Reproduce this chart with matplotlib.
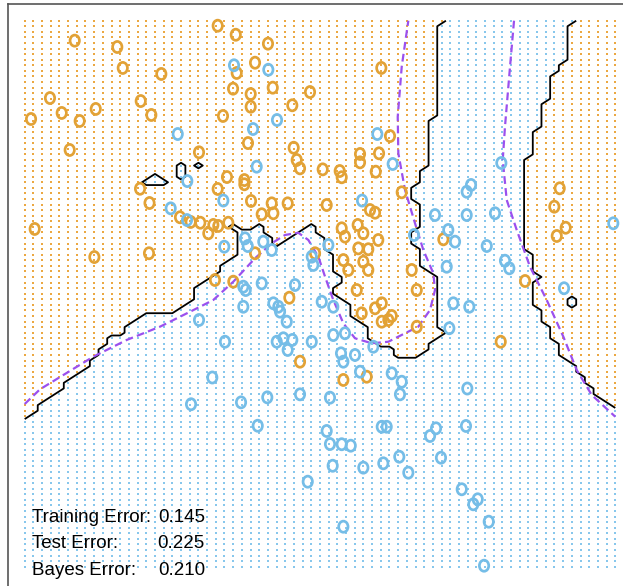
import numpy as np
import matplotlib
matplotlib.use("Agg")
import matplotlib.pyplot as plt
from matplotlib.path import Path
from matplotlib.transforms import Affine2D
from matplotlib.lines import Line2D

# ---------------- data ----------------
orange_x1 = [-2.024, -1.534, -1.471, -1.027, -2.309, -1.782, -1.264, -2.174, -1.967, -2.527,
             -1.142, -2.082, -0.593, -1.272, -0.378, -0.170, 0.201, 0.052, -0.159, -0.201,
             0.002, 0.256, 0.685, 0.002, 0.481, -0.317, 1.506, -0.029, 0.497, 0.532,
             0.570, 0.831, 1.027, 1.050, 1.261, 1.261, 1.480, 1.442, 1.606, -0.271,
             -0.071, -0.071, -0.378, 1.741, -1.163, -2.485, -1.798, -1.169, -0.812, -0.689,
             -0.578, -0.486, -0.428, -0.371, -0.256, 0.006, 0.129, 0.244, 0.263, 0.428,
             0.877, 1.376, 1.434, -0.409, -0.198, 0.052, 0.447, 0.743, 1.050, 1.088,
             1.234, 1.299, 1.241, 1.356, 1.471, 1.069, 1.126, 1.299, 1.356, 1.223,
             1.856, 1.914, 1.434, 1.511, 1.280, 1.511, 1.587, 1.626, 1.914, 0.570,
             1.069, 1.338, 3.560, 3.498, 3.629, 3.526, 2.220, 3.161, 2.881]
orange_x2 = [2.721, 2.664, 2.476, 2.422, 2.206, 2.108, 2.179, 2.072, 2.000, 2.018,
             2.054, 1.740, 1.719, 1.392, 2.855, 2.774, 2.694, 2.523, 2.431, 2.290,
             2.242, 2.299, 2.260, 2.128, 2.141, 2.045, 2.476, 1.802, 1.760, 1.650,
             1.575, 1.566, 1.551, 1.495, 1.704, 1.629, 1.710, 1.545, 1.865, 1.497,
             1.470, 1.432, 1.390, 1.360, 1.264, 1.031, 0.779, 0.813, 1.136, 1.094,
             1.087, 0.992, 1.067, 1.058, 1.087, 1.282, 1.163, 1.261, 1.172, 1.261,
             1.246, 1.201, 1.177, 0.573, 0.558, 0.813, 0.414, 0.813, 1.037, 0.962,
             1.067, 0.992, 0.857, 0.849, 0.932, 0.752, 0.663, 0.737, 0.663, 0.483,
             0.663, 0.483, 0.319, 0.364, 0.274, 0.199, 0.214, 0.250, 0.154, -0.160,
             -0.324, -0.295, 1.396, 1.231, 1.042, 0.968, 0.938, 0.564, 0.019]

blue_x1 = [-0.838, -0.728, -0.190, 0.205, 0.305, 0.029, 0.071, 1.460, 1.637, -0.313,
           1.284, 2.888, 2.539, 2.489, -0.919, -0.593, -0.440, -0.731, -0.063, -0.032,
           0.147, 0.244, -0.302, 0.705, 0.723, 0.896, 1.883, -0.083, -0.055, 0.129,
           0.512, -0.083, 0.263, 0.320, 0.340, 0.417, 0.820, 0.953, -0.294, 0.302,
           0.378, 0.481, 0.428, 0.705, 0.953, 1.088, 1.042, 1.069, 1.203, 1.414,
           1.261, 1.626, 1.741, 2.124, 2.489, 2.815, 4.177, 2.277, 2.355, 2.720,
           2.930, 2.980, 2.259, 3.610, 2.335, 2.519, 2.289, 2.496, -0.685, -0.109,
           0.193, 0.570, 0.915, 0.083, 0.877, 0.915, 1.050, 1.154, 0.946, 1.299,
           0.659, 1.511, 1.568, 1.529, 1.713, 1.817, 1.721, 1.069, 2.136, 2.067,
           2.481, 2.193, 2.432, 2.616, 2.565, 2.743, 2.689]
blue_x2 = [1.883, 1.461, 2.500, 2.460, 2.009, 1.928, 1.590, 1.883, 1.614, 1.286,
           1.286, 1.623, 1.426, 1.365, 1.216, 0.214, -0.302, 1.111, 0.947, 0.878,
           0.917, 0.842, 0.872, 0.782, 0.708, 0.887, 0.977, 0.513, 0.483, 0.543,
           0.528, 0.333, 0.364, 0.333, 0.289, 0.199, 0.378, 0.333, 0.019, 0.019,
           0.050, 0.035, -0.055, 0.019, 0.079, 0.095, -0.085, -0.160, -0.100, -0.026,
           -0.250, -0.264, -0.340, 1.156, 1.156, 1.172, 1.082, 1.022, 0.917, 0.878,
           0.746, 0.678, 0.692, 0.499, 0.364, 0.333, 0.140, -0.401, -0.542, -0.525,
           -0.480, -0.453, -0.483, -0.735, -0.782, -0.899, -0.901, -0.914, -1.094, -1.111,
           -1.237, -0.744, -0.744, -1.072, -1.013, -1.156, -0.453, -1.641, -0.758, -0.827,
           -0.737, -1.022, -1.305, -1.395, -1.440, -1.596, -1.991]

# Bayes decision boundary (purple dashed), two pieces
bayes1_x1 = [-2.600, -2.424, -1.810, -1.425, -1.042, -0.581, -0.428, -0.198, 0.052, 0.244,
             0.397, 0.550, 0.666, 0.781, 0.858, 0.953, 1.069, 1.203, 1.396, 1.587,
             1.779, 1.932, 2.067, 2.124, 2.105, 1.990, 1.894, 1.779, 1.702, 1.695,
             1.741, 1.817]
bayes1_x2 = [-0.540, -0.408, -0.115, 0.035, 0.154, 0.333, 0.394, 0.558, 0.768, 0.902,
             0.977, 0.997, 0.932, 0.782, 0.603, 0.394, 0.184, 0.050, 0.005, 0.019,
             0.095, 0.154, 0.304, 0.483, 0.633, 0.842, 1.082, 1.381, 1.710, 2.038,
             2.487, 2.900]
bayes2_x1 = [3.034, 2.988, 2.930, 2.904, 2.950, 3.065, 3.218, 3.410, 3.602, 3.756, 3.929, 4.200]
bayes2_x2 = [2.900, 2.487, 1.949, 1.650, 1.291, 1.022, 0.692, 0.394, 0.064, -0.235, -0.459, -0.654]

# fitted classifier's decision boundary (orange lies left/above of A, right/above of B)
boundA_x1 = [-2.600, -2.443, -2.251, -1.944, -1.733, -1.637, -1.445, -1.425, -1.195, -0.889,
             -0.677, -0.659, -0.581, -0.428, -0.294, -0.159, -0.140, -0.236, -0.025, 0.071,
             0.147, 0.167, 0.244, 0.282, 0.705, 0.838, 0.858, 0.935, 0.953, 1.011,
             1.011, 0.953, 1.146, 1.165, 1.280, 1.356, 1.376, 1.471, 1.626, 1.683,
             1.779, 1.952, 1.971, 2.067, 2.240, 2.162, 2.182, 2.124, 1.932, 1.932,
             1.874, 1.894, 1.952, 1.952, 1.837, 1.914, 1.952, 2.009, 2.047, 2.075,
             2.124, 2.144, 2.162, 2.162, 2.144, 2.259]
boundA_x2 = [-0.668, -0.564, -0.441, -0.250, -0.085, 0.064, 0.109, 0.169, 0.274, 0.280,
             0.394, 0.468, 0.543, 0.633, 0.708, 0.813, 0.932, 1.082, 0.992, 1.067,
             1.067, 1.006, 0.992, 0.887, 1.082, 0.962, 0.842, 0.813, 0.692, 0.603,
             0.543, 0.454, 0.349, 0.274, 0.184, 0.124, 0.050, -0.010, -0.040, -0.115,
             -0.145, -0.145, -0.085, 0.005, 0.109, 0.154, 0.558, 0.588, 0.692, 0.827,
             0.902, 1.022, 1.082, 1.201, 1.351, 1.455, 1.531, 1.590, 1.829, 2.009,
             2.038, 2.308, 2.442, 2.787, 2.861, 2.900]
boundB_x1 = [3.756, 3.659, 3.641, 3.564, 3.544, 3.468, 3.448, 3.371, 3.353, 3.276,
             3.256, 3.199, 3.161, 3.161, 3.256, 3.276, 3.353, 3.276, 3.276, 3.353,
             3.371, 3.448, 3.448, 3.526, 3.544, 3.641, 3.756, 3.756, 3.947, 3.967, 4.200]
boundB_x2 = [2.900, 2.861, 2.547, 2.518, 2.442, 2.404, 2.188, 2.159, 1.934, 1.904,
             1.724, 1.680, 1.531, 0.842, 0.813, 0.633, 0.603, 0.558, 0.349, 0.319,
             0.199, 0.154, 0.050, 0.019, -0.085, -0.115, -0.190, -0.264, -0.399, -0.459, -0.578]
# small blue pockets inside the orange region
pocket_x1 = [-1.1, -1.2, -1.1, -1.0, -0.8, -0.8, -0.8, -0.6, 3.7, 3.7]
pocket_x2 = [1.50, 1.45, 1.45, 1.45, 1.60, 1.55, 1.50, 1.60, 0.40, 0.35]

# prediction lattice
grid_x1 = np.linspace(-2.6, 4.2, 69)
grid_x2 = np.linspace(-2.0, 2.9, 99)

error_labels = ["Training Error:", "Test Error:", "Bayes Error:"]
error_values = ["0.145", "0.225", "0.210"]

# ---------------- classify lattice ----------------
G1, G2 = np.meshgrid(grid_x1, grid_x2)
P = np.column_stack([G1.ravel(), G2.ravel()])
polyA = ([(-3.5, boundA_x2[0])] + list(zip(boundA_x1, boundA_x2)) +
         [(boundA_x1[-1], 3.5), (-3.5, 3.5)])
polyB = (list(zip(boundB_x1, boundB_x2)) +
         [(4.6, boundB_x2[-1]), (4.6, 3.5), (boundB_x1[0], 3.5)])
orange_mask = Path(polyA).contains_points(P) | Path(polyB).contains_points(P)
field = orange_mask.astype(float).reshape(G1.shape)
for px, py in zip(pocket_x1, pocket_x2):
    i = np.argmin(np.abs(grid_x1 - px))
    j = np.argmin(np.abs(grid_x2 - py))
    field[j, i] = 0.0
is_or = field.ravel() > 0.5

ORANGE_DOT = "#EBA843"
BLUE_DOT = "#88C7EC"
ORANGE = "#E2A236"
BLUE = "#75BDE7"
PURPLE = "#9B50EE"

fig = plt.figure(figsize=(6.23, 5.86), dpi=100)
ax = fig.add_axes([0, 0, 1, 1])
ax.set_xlim(-2.8844, 4.2888)
ax.set_ylim(-2.1732, 3.0858)
ax.axis("off")

ax.scatter(P[is_or, 0], P[is_or, 1], s=1.7, marker="s", c=ORANGE_DOT, linewidths=0, zorder=1)
ax.scatter(P[~is_or, 0], P[~is_or, 1], s=1.7, marker="s", c=BLUE_DOT, linewidths=0, zorder=1)

ax.contour(G1, G2, field, levels=[0.5], colors="black", linewidths=1.3, zorder=3)
ax.plot(bayes1_x1, bayes1_x2, color=PURPLE, lw=1.6, ls=(0, (3.5, 1.9)), zorder=4)
ax.plot(bayes2_x1, bayes2_x2, color=PURPLE, lw=1.6, ls=(0, (3.5, 1.9)), zorder=4)

ell = Path.unit_circle().transformed(Affine2D().scale(0.84, 1.0))
ax.scatter(orange_x1, orange_x2, s=64, marker=ell, facecolors="none", edgecolors=ORANGE,
           linewidths=1.95, zorder=5)
ax.scatter(blue_x1, blue_x2, s=64, marker=ell, facecolors="none", edgecolors=BLUE,
           linewidths=1.95, zorder=5)

for i, (lbl, val) in enumerate(zip(error_labels, error_values)):
    yy = 1 - (521.7 + 26.7 * i) / 586
    fig.text(32 / 623, yy, lbl, ha="left", va="baseline", fontsize=13.5,
             family="Liberation Sans", color="black", zorder=6)
    fig.text(205 / 623, yy, val, ha="right", va="baseline", fontsize=13.5,
             family="Liberation Sans", color="black", zorder=6)

fig.add_artist(Line2D([8 / 623, 8 / 623], [0, 1 - 4.3 / 586], color="#555555", lw=1.2))
fig.add_artist(Line2D([8 / 623, 1], [1 - 4.3 / 586, 1 - 4.3 / 586], color="#555555", lw=1.2))

fig.savefig("out.png", dpi=100, facecolor="white")
